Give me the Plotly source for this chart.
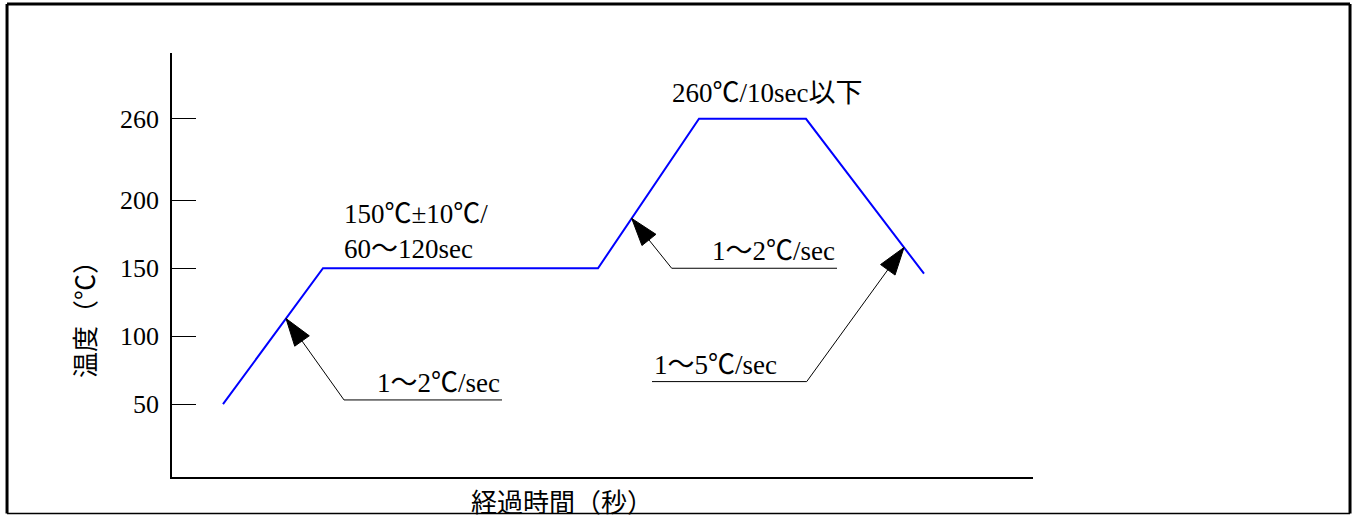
import plotly.graph_objects as go

# reflow profile (time axis has no scale, units are arbitrary)
time = [51, 151, 426, 527, 634, 752]
temp = [50, 150, 150, 260, 260, 146]

tick_vals = [50, 100, 150, 200, 260]
tick_text = ["50", "100", "150", "200", "260"]

# callouts: underline far end x, corner (x, y), arrow tip (x, y) on the profile
callout_underline_x = [330, 665, 480]
callout_corner = [(172, 53.1), (499.7, 150), (634.7, 66.6)]
callout_tip = [(114, 113), (459.7, 186.7), (732, 165.3)]
callout_text = ["1～2℃/sec", "1～2℃/sec", "1～5℃/sec"]

FONT = "Liberation Serif, 'Noto Sans CJK JP', serif"
FS = 27

fig = go.Figure()

fig.add_trace(go.Scatter(
    x=time, y=temp, mode="lines",
    line=dict(color="#0000ff", width=2),
    hoverinfo="skip", showlegend=False
))

for ux, (cx, cy), (tx, ty) in zip(callout_underline_x, callout_corner, callout_tip):
    fig.add_trace(go.Scatter(
        x=[ux, cx, tx], y=[cy, cy, ty], mode="lines+markers",
        line=dict(color="black", width=1),
        marker=dict(symbol="arrow", angleref="previous", size=[0, 0, 29],
                    color="#000000", opacity=1,
                    line=dict(width=1, color="#000000")),
        opacity=1, hoverinfo="skip", showlegend=False
    ))

anns = [
    dict(x=330, y=53.1, text=callout_text[0], xanchor="right", yanchor="bottom"),
    dict(x=665, y=150, text=callout_text[1], xanchor="right", yanchor="bottom"),
    dict(x=480, y=66.6, text=callout_text[2], xanchor="left", yanchor="bottom"),
    dict(x=170, y=202.5, text="150℃±10℃/<br>60～120sec", xanchor="left",
         yanchor="top", align="left"),
    dict(x=594.5, y=266.5, text="260℃/10sec以下", xanchor="center", yanchor="bottom"),
]
for a in anns:
    fig.add_annotation(showarrow=False, xref="x", yref="y",
                       font=dict(family=FONT, size=FS, color="black"), **a)

# axis titles
fig.add_annotation(x=-0.0987, y=0.387, xref="paper", yref="paper", text="温度（℃）",
                   textangle=-90, xanchor="center", yanchor="middle", showarrow=False,
                   font=dict(family=FONT, size=26, color="black"))
fig.add_annotation(x=0.453, y=-0.0236, xref="paper", yref="paper", text="経過時間（秒）",
                   xanchor="center", yanchor="top", showarrow=False,
                   font=dict(family=FONT, size=26, color="black"))

# outer frame
x0, x1, y0, y1 = -0.1916, 1.3682, -0.0861, 1.1156
for (ax0, ay0, ax1, ay1, w) in [(x0, y0, x0, y1, 3), (x0, y1, x1, y1, 3),
                                (x1, y1, x1, y0, 3), (x0, y0, x1, y0, 1.5)]:
    fig.add_shape(type="line", xref="paper", yref="paper",
                  x0=ax0, y0=ay0, x1=ax1, y1=ay1, line=dict(color="black", width=w))

fig.update_layout(
    width=1357, height=515,
    margin=dict(l=172, r=324, t=53, b=38),
    paper_bgcolor="white", plot_bgcolor="white",
    font=dict(family=FONT, size=FS, color="black"),
    xaxis=dict(range=[0, 861], showline=True, linecolor="black", linewidth=2,
               showticklabels=False, ticks="", showgrid=False, zeroline=False),
    yaxis=dict(range=[-3.6, 308.4], showline=True, linecolor="black", linewidth=1.5,
               tickvals=tick_vals, ticktext=tick_text, ticks="inside", ticklen=24,
               tickcolor="black", tickwidth=1, showgrid=False, zeroline=False,
               ticklabelstandoff=6, tickfont=dict(family=FONT, size=26)),
)

# the page body has a default 8px margin; drop it so the figure sits at 0,0
fig.write_html("out.html", config={"displayModeBar": False},
               post_script="document.body.style.margin = '0';")
